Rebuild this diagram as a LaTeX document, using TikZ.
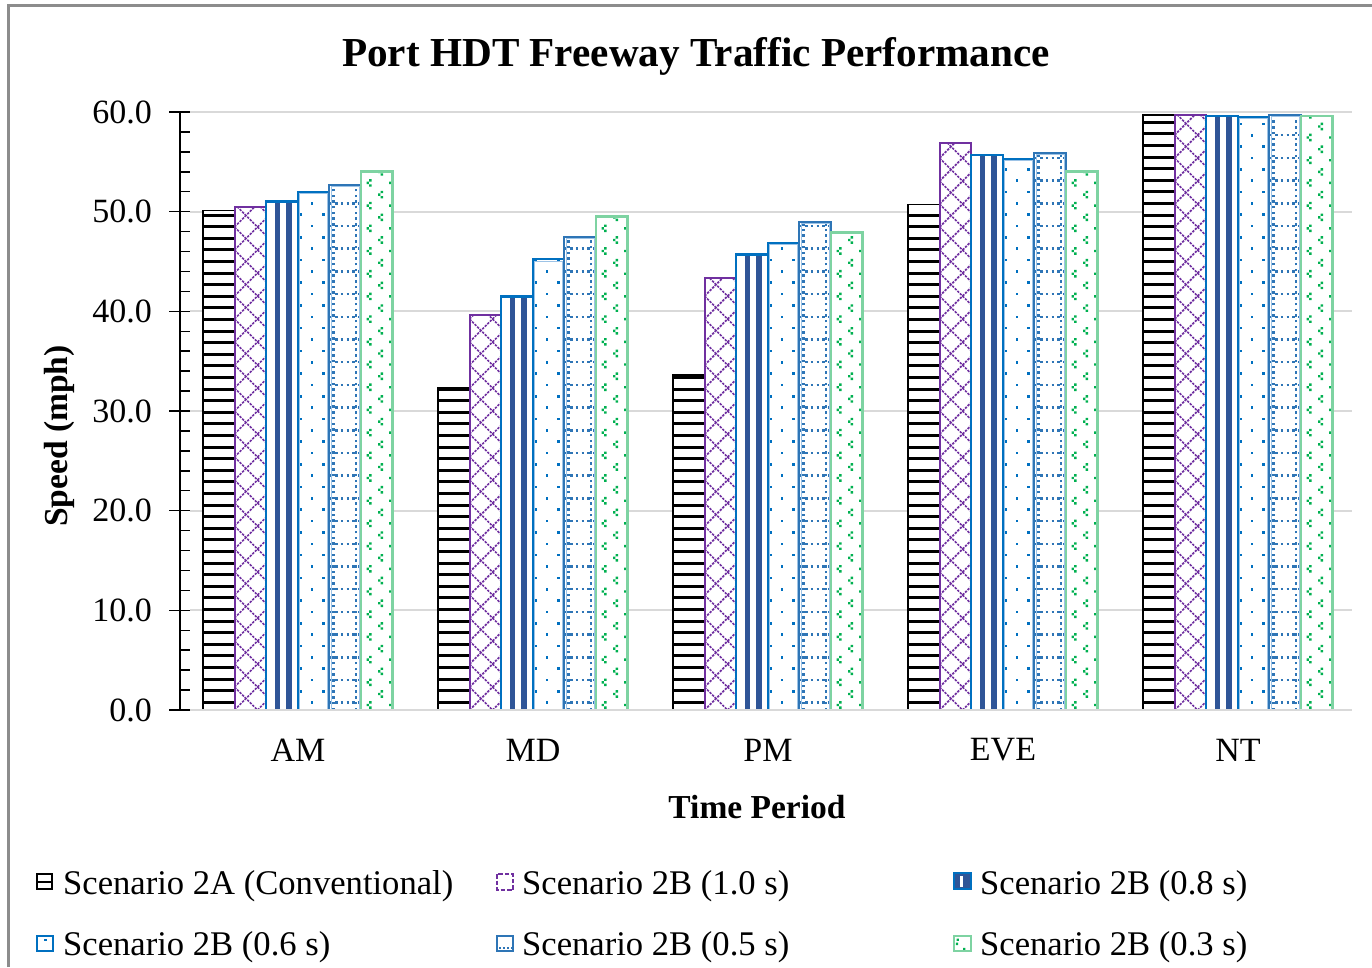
\documentclass[tikz,border=0pt]{standalone}
\usepackage{fontspec}
\setmainfont{Liberation Serif}
\definecolor{cpurple}{HTML}{7030A0}
\definecolor{cbar}{HTML}{0070C0}
\definecolor{cbarl}{HTML}{9DC3E6}
\definecolor{cstripe}{HTML}{2F5597}
\definecolor{cgrid}{HTML}{2E75B6}
\definecolor{cgreen}{HTML}{00B050}
\definecolor{cgreenl}{HTML}{7ED3A2}
\definecolor{cgridl}{HTML}{D9D9D9}
\definecolor{cframe}{HTML}{8C8C8C}

\newcommand\barHS[2]{%
 \pgfmathsetmacro\bx{#1}\pgfmathsetmacro\bt{710-(#2)*9.967}%
 \fill[white] (\bx,\bt) rectangle ({\bx+31.6},710);
 \begin{scope}\clip (\bx,\bt) rectangle ({\bx+31.6},710);
 \foreach \k in {0,...,52}{\fill[black] (\bx,{700.8-\k*11.6}) rectangle ({\bx+31.6},{703.8-\k*11.6});}
 \end{scope}
 \draw[black,line width=1.6pt] (\bx,710) rectangle ({\bx+31.6},\bt);}

\newcommand\barZZ[2]{%
 \pgfmathsetmacro\bx{#1}\pgfmathsetmacro\bt{710-(#2)*9.967}%
 \fill[white] (\bx,\bt) rectangle ({\bx+31.6},710);
 \begin{scope}\clip (\bx,\bt) rectangle ({\bx+31.6},710);
 \foreach \k in {-2,...,28}{
   \draw[cpurple,line width=1.6pt,dash pattern=on 2.4pt off 1.2pt] (\bx,{710-\k*23}) -- ++(40,-40);
   \draw[cpurple,line width=1.6pt,dash pattern=on 2.4pt off 1.2pt] (\bx,{710-\k*23}) -- ++(40,40);}
 \end{scope}
 \draw[cpurple,line width=2pt] (\bx,710) rectangle ({\bx+31.6},\bt);}

\newcommand\barVS[2]{%
 \pgfmathsetmacro\bx{#1}\pgfmathsetmacro\bt{710-(#2)*9.967}%
 \fill[white] (\bx,\bt) rectangle ({\bx+31.6},710);
 \begin{scope}\clip (\bx,\bt) rectangle ({\bx+31.6},710);
 \foreach \k in {0,1,2}{\fill[cstripe] ({\bx+8.5+\k*11.7},\bt) rectangle ({\bx+14+\k*11.7},710);}
 \end{scope}
 \draw[cbar,line width=2.4pt] (\bx,710) rectangle ({\bx+31.6},\bt);}

\newcommand\barDT[2]{%
 \pgfmathsetmacro\bx{#1}\pgfmathsetmacro\bt{710-(#2)*9.967}%
 \fill[white] (\bx,\bt) rectangle ({\bx+31.6},710);
 \begin{scope}\clip (\bx,\bt) rectangle ({\bx+31.6},710);
 \foreach \j in {0,...,53}{\foreach \i in {0,1}{
   \fill[cbar] ({\bx+1.4+11.35*(1-mod(\j,2))+22.7*\i},{701.4-11.35*\j}) rectangle ++(2.6,2.6);}}
 \end{scope}
 \draw[cbarl,line width=1pt] ({\bx+2},710) rectangle ({\bx+29.6},{\bt+2});
 \draw[cbar,line width=2pt] (\bx,710) rectangle ({\bx+31.6},\bt);}

\newcommand\barGD[2]{%
 \pgfmathsetmacro\bx{#1}\pgfmathsetmacro\bt{710-(#2)*9.967}%
 \fill[white] (\bx,\bt) rectangle ({\bx+31.6},710);
 \begin{scope}\clip (\bx,\bt) rectangle ({\bx+31.6},710);
 \foreach \k in {0,...,27}{\draw[cgrid,line width=2.5pt,dash pattern=on 2.5pt off 3.2pt] (\bx,{702.7-\k*22.7}) -- ({\bx+31.6},{702.7-\k*22.7});}
 \draw[cgrid,line width=2.5pt,dash pattern=on 2.5pt off 3.2pt] ({\bx+4},710) -- ({\bx+4},\bt) ({\bx+26.7},710) -- ({\bx+26.7},\bt);
 \end{scope}
 \draw[cbarl,line width=1pt] ({\bx+2},710) rectangle ({\bx+29.6},{\bt+2});
 \draw[cgrid,line width=2pt] (\bx,710) rectangle ({\bx+31.6},\bt);}

\newcommand\cmark[2]{\fill[cgreen] ({#1+2.6},{#2-3.8}) rectangle ++(2.4,2.4) ({#1},{#2-1.2}) rectangle ++(2.4,2.4) ({#1+2.6},{#2+1.4}) rectangle ++(2.4,2.4);}

\newcommand\barCF[2]{%
 \pgfmathsetmacro\bx{#1}\pgfmathsetmacro\bt{710-(#2)*9.967}%
 \fill[white] (\bx,\bt) rectangle ({\bx+31.6},710);
 \begin{scope}\clip (\bx,\bt) rectangle ({\bx+31.6},710);
 \foreach \j in {0,...,27}{
   \cmark{\bx+5.5}{705-\j*22.7}
   \cmark{\bx+28.2}{705-\j*22.7}
   \cmark{\bx+17}{694-\j*22.7}}
 \end{scope}
 \draw[cgreenl,line width=2.6pt] (\bx,710) rectangle ({\bx+31.6},\bt);}

\begin{document}
\begin{tikzpicture}[x=1pt,y=-1pt,
  lbl/.style={inner sep=0pt,font=\fontsize{34}{40}\selectfont},
  lgd/.style={inner sep=0pt,font=\fontsize{34.6}{40}\selectfont,anchor=base west},
  btitle/.style={inner sep=0pt,font=\fontsize{33.5}{40}\selectfont\bfseries}]
\useasboundingbox (0,0) rectangle (1372,967);
\fill[white] (0,0) rectangle (1372,967);
% frame
\draw[cframe,line width=2.5pt] (8.5,967) -- (8.5,5.5) -- (1372,5.5);
% title
\node[inner sep=0pt,font=\fontsize{41.2}{48}\selectfont\bfseries,anchor=base] (title) at (696,66) {Port HDT Freeway Traffic Performance};
% gridlines
\foreach \v in {1,...,6}{\draw[cgridl,line width=2pt] (190,{710-\v*99.67}) -- (1352,{710-\v*99.67});}
% bars
\foreach \g/\a/\b/\c/\d/\e/\f in {0/50.1/50.5/51.0/52.0/52.7/54.0, 1/32.3/39.6/41.5/45.2/47.5/49.5, 2/33.6/43.3/45.7/46.9/49.0/47.9, 3/50.7/56.9/55.7/55.3/55.9/54.0, 4/59.7/59.7/59.6/59.5/59.7/59.6}{
  \pgfmathsetmacro\L{298+235*\g-95}
  \barHS{\L}{\a}
  \barZZ{\L+31.6}{\b}
  \barVS{\L+63.2}{\c}
  \barDT{\L+94.8}{\d}
  \barGD{\L+126.4}{\e}
  \barCF{\L+158}{\f}
}
% x axis baseline
\draw[cgridl,line width=2pt] (180,710) -- (1352,710);
% y axis
\draw[black,line width=1.5pt] (180,111.5) -- (180,710.5);
\foreach \v in {0,...,6}{\draw[black,line width=1.5pt] (169,{710-\v*99.67}) -- (190,{710-\v*99.67});}
\foreach \m in {1,...,29}{\pgfmathtruncatemacro\r{mod(\m,5)}\ifnum\r>0 \draw[black,line width=1.5pt] (180,{710-\m*19.934}) -- (190,{710-\m*19.934});\fi}
% tick labels
\foreach \v/\t in {0/0.0,1/10.0,2/20.0,3/30.0,4/40.0,5/50.0,6/60.0}{\node[lbl,anchor=east] (tk\v) at (152,{710-\v*99.67}) {\t};}
% categories
\foreach \g/\n in {0/AM,1/MD,2/PM,3/EVE,4/NT}{\node[lbl] (cat\g) at ({298+235*\g},750) {\n};}
% axis titles
\node[btitle,anchor=base] (xtitle) at (757,818) {Time Period};
\node[btitle,anchor=base,rotate=90] (ytitle) at (67,436) {Speed (mph)};
% legend symbols
\draw[black,line width=1.6pt] (37,874) rectangle (52,889);
\fill[black] (37,880.5) rectangle (52,882.8);
\draw[cpurple,line width=2.2pt,dash pattern=on 4.5pt off 2pt] (497,874) rectangle (513,890);
\fill[cstripe] (954,873) rectangle (971,889);
\fill[white] (959.5,875.5) rectangle (963,886.5);
\draw[cbar,line width=1.6pt] (954,873) rectangle (971,889);
\draw[cbar,line width=2pt] (37,936) rectangle (53,951);
\fill[cbar] (44,938.5) rectangle (46.6,941.1);
\draw[cgrid,line width=2pt] (497,936) rectangle (513,951);
\draw[cgrid,line width=2pt,dash pattern=on 2pt off 2pt] (499,948) -- (512,948);
\draw[cgreenl,line width=2.2pt] (954,936) rectangle (971,951);
\fill[cgreen] (956.5,938.5) rectangle (958.9,940.9) (955.8,942.6) rectangle (958.2,945) (963,947.8) rectangle (965.4,949.8);
% legend texts
\node[lgd] (lg1) at (63,894) {Scenario 2A (Conventional)};
\node[lgd] (lg2) at (522,894) {Scenario 2B (1.0 s)};
\node[lgd] (lg3) at (980,894) {Scenario 2B (0.8 s)};
\node[lgd] (lg4) at (63,955) {Scenario 2B (0.6 s)};
\node[lgd] (lg5) at (522,955) {Scenario 2B (0.5 s)};
\node[lgd] (lg6) at (980,955) {Scenario 2B (0.3 s)};
\end{tikzpicture}
\end{document}
